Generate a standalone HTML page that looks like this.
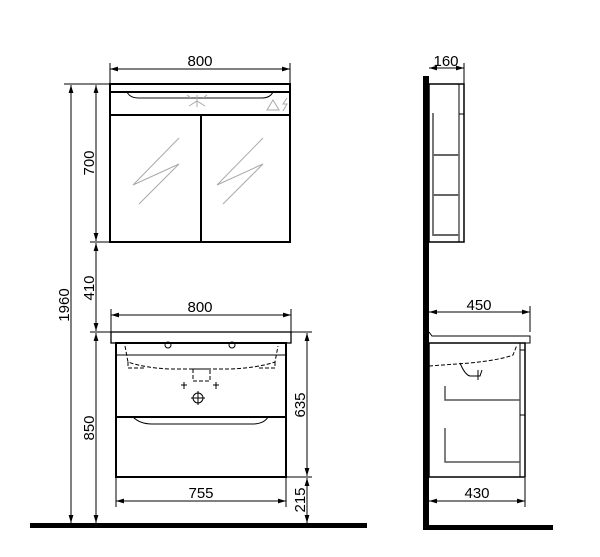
<!DOCTYPE html>
<html><head><meta charset="utf-8"><style>html,body{margin:0;padding:0;background:#fff}svg{display:block}text{font-family:"Liberation Sans",sans-serif;font-size:15px;fill:#000}</style></head>
<body>
<svg width="600" height="557" viewBox="0 0 600 557" xmlns="http://www.w3.org/2000/svg">
<defs>
<marker id="a" viewBox="0 0 10 6" refX="10" refY="3" markerWidth="8" markerHeight="5" orient="auto-start-reverse"><path d="M0,0 L10,3 L0,6 z" fill="#000"/></marker>
</defs>
<g stroke="#000" stroke-width="1" fill="none">
<line x1="110" y1="69" x2="290" y2="69" marker-start="url(#a)" marker-end="url(#a)"/>
<line x1="110" y1="63" x2="110" y2="84"/><line x1="290" y1="63" x2="290" y2="84"/>
<line x1="71" y1="85" x2="71" y2="523" marker-start="url(#a)" marker-end="url(#a)"/>
<line x1="64" y1="84" x2="110" y2="84"/>
<line x1="96" y1="85" x2="96" y2="241" marker-start="url(#a)" marker-end="url(#a)"/>
<line x1="96" y1="243" x2="96" y2="331" marker-start="url(#a)" marker-end="url(#a)"/>
<line x1="96" y1="333" x2="96" y2="523" marker-start="url(#a)" marker-end="url(#a)"/>
<line x1="90" y1="242" x2="110" y2="242"/>
<line x1="90" y1="332" x2="312" y2="332"/>
<line x1="111" y1="315" x2="291" y2="315" marker-start="url(#a)" marker-end="url(#a)"/>
<line x1="111" y1="309" x2="111" y2="332"/><line x1="291" y1="309" x2="291" y2="332"/>
<line x1="116" y1="501" x2="286" y2="501" marker-start="url(#a)" marker-end="url(#a)"/>
<line x1="116" y1="478" x2="116" y2="507"/><line x1="286" y1="478" x2="286" y2="507"/>
<line x1="307" y1="333" x2="307" y2="476" marker-start="url(#a)" marker-end="url(#a)"/>
<line x1="307" y1="478" x2="307" y2="523" marker-start="url(#a)" marker-end="url(#a)"/>
<line x1="286" y1="477" x2="312" y2="477"/>
<rect x="110" y="84" width="180" height="158" stroke-width="2"/>
<line x1="110" y1="92" x2="290" y2="92" stroke-width="2"/>
<line x1="110" y1="115" x2="290" y2="115" stroke-width="2"/>
<line x1="201" y1="115" x2="201" y2="242" stroke-width="2"/>
<path d="M127,92 Q130,98 138,98 L262,98 Q270,98 273,92" stroke-width="1"/>
<line x1="138" y1="98" x2="262" y2="98" stroke="#888" stroke-width="2"/>
<g stroke="#aaa"><path d="M179,138 L133,185 L179,164 L139,204"/><path d="M263,138 L217,185 L263,164 L223,204"/>
<path d="M189,106 l8,-5 l8,5 M197,101 v-6 M191,98 l-4,-3 M203,98 l4,-3 M197,101 v6"/>
<path d="M267,110 l6,-10 l6,10 z M287,98 l-4,6 l4,0 l-4,7"/></g>
<rect x="111" y="332" width="180" height="11" stroke-width="1.3"/>
<rect x="116" y="343" width="170" height="134" stroke-width="2"/>
<line x1="116" y1="355" x2="286" y2="355"/>
<line x1="116" y1="417" x2="286" y2="417" stroke-width="2"/>
<path d="M133,417 Q140,424 152,424 L252,424 Q264,424 268,417"/>
<g stroke-dasharray="4,2"><path d="M125,346 L128,362 Q145,368 170,369 L230,369 Q257,368 275,362 L278,346"/>
<path d="M128,362 L128,368 L145,368 M275,362 L275,368 L258,368"/><rect x="193" y="369" width="17" height="12"/></g>
<circle cx="168" cy="345" r="3"/><circle cx="232" cy="345" r="3"/>
<path d="M181,385 h6 M184,382 v7 M213,385 h6 M216,382 v7"/>
<circle cx="198" cy="398" r="5"/><path d="M191,398 h14 M198,391 v14"/>
<line x1="464" y1="63" x2="464" y2="84"/>
<line x1="429" y1="68" x2="464" y2="68" marker-start="url(#a)" marker-end="url(#a)"/>
<rect x="429" y="84" width="35" height="158" stroke-width="1.5"/>
<rect x="459" y="84" width="5" height="158"/><line x1="459" y1="114" x2="464" y2="114"/>
<line x1="433" y1="113" x2="433" y2="236" stroke="#777" stroke-width="2"/>
<line x1="433" y1="155" x2="459" y2="155" stroke="#666" stroke-width="2"/>
<line x1="433" y1="195" x2="459" y2="195" stroke="#666" stroke-width="2"/>
<line x1="433" y1="235" x2="459" y2="235" stroke="#666" stroke-width="2"/>
<line x1="530" y1="306" x2="530" y2="332"/>
<line x1="429" y1="312" x2="530" y2="312" marker-start="url(#a)" marker-end="url(#a)"/>
<path d="M429,332 L432,336 L530,336 L530,343 L429,343"/>
<rect x="429" y="343" width="96" height="134" stroke-width="1.5"/>
<rect x="520" y="343" width="5" height="134"/><line x1="520" y1="350" x2="525" y2="350"/><line x1="520" y1="415" x2="525" y2="415"/>
<path d="M429,366 L470,363 Q500,360 513,355 L517,345" stroke-dasharray="4,2"/>
<path d="M460,363 Q465,375 470,376 L480,376 L482,370 M478,370 v10" />
<path d="M445,386 v14 h75 M445,428 v34 h75" stroke="#555" stroke-width="1.5"/>
<line x1="525" y1="478" x2="525" y2="507"/>
<line x1="429" y1="501" x2="525" y2="501" marker-start="url(#a)" marker-end="url(#a)"/>
</g>
<rect x="30" y="523" width="337" height="5" fill="#000"/>
<rect x="423" y="76" width="6" height="454" fill="#000"/>
<rect x="423" y="525" width="130" height="5" fill="#000"/>
<text x="200" y="66" text-anchor="middle">800</text>
<text x="200" y="312" text-anchor="middle">800</text>
<text x="201" y="498" text-anchor="middle">755</text>
<text x="446" y="66" text-anchor="middle">160</text>
<text x="479" y="310" text-anchor="middle">450</text>
<text x="477" y="498" text-anchor="middle">430</text>
<text transform="translate(94,163) rotate(-90)" text-anchor="middle">700</text>
<text transform="translate(94,288) rotate(-90)" text-anchor="middle">410</text>
<text transform="translate(94,428) rotate(-90)" text-anchor="middle">850</text>
<text transform="translate(69,305) rotate(-90)" text-anchor="middle">1960</text>
<text transform="translate(305,405) rotate(-90)" text-anchor="middle">635</text>
<text transform="translate(305,500) rotate(-90)" text-anchor="middle">215</text>
</svg>
</body></html>
